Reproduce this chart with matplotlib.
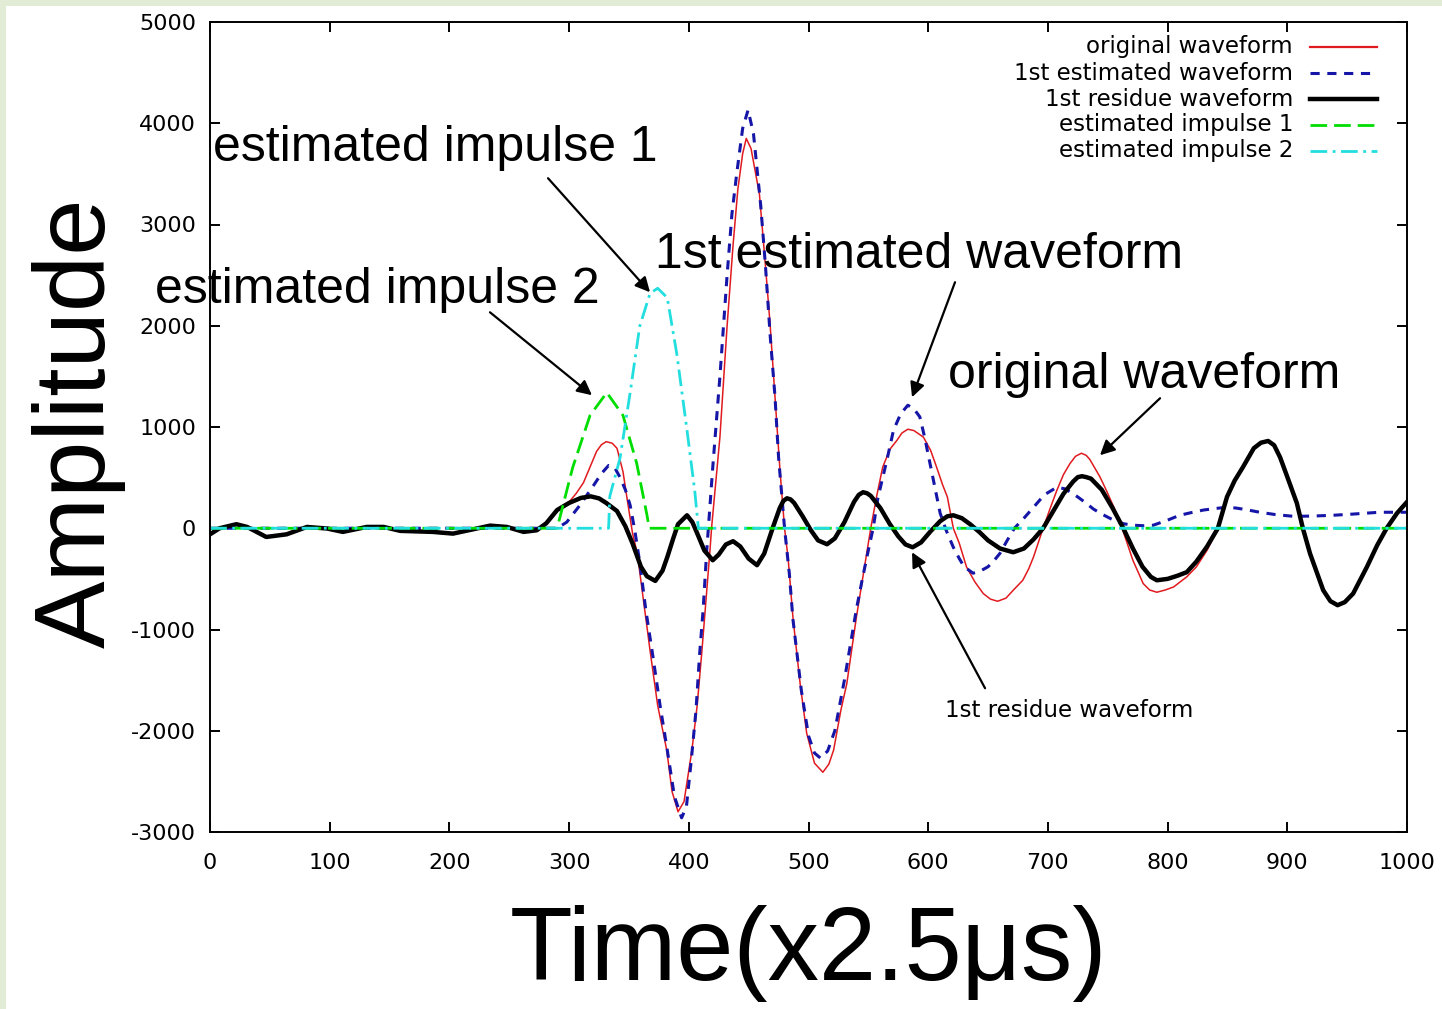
import matplotlib
matplotlib.use("Agg")
import matplotlib.pyplot as plt
from matplotlib.patches import Rectangle

plt.rcParams['axes.unicode_minus'] = False

# original waveform (red)
orig_t = [0, 8, 22, 31, 47, 64, 81, 98, 111, 131, 145, 159, 186, 203, 220, 234, 248, 262, 273, 281,
          290, 300, 306, 312, 317.5, 323, 327, 331, 336, 340, 345, 349, 353, 357, 362, 367.6, 374,
          381.6, 386, 391, 396, 402.6, 407, 411, 417.7, 419, 426, 432, 437, 441, 445, 448, 452, 459,
          464, 468, 472, 476, 480, 483, 487, 493, 498.5, 505, 512, 517, 521, 527, 532, 540, 549, 552,
          557, 562, 568, 574, 578, 583, 588, 596, 602, 607, 612, 616, 621, 626, 632, 639, 646, 652,
          658, 665, 672, 679, 684, 688, 692, 696, 702, 707.5, 713, 718.5, 723, 728, 732, 735, 743.5,
          749, 755, 762, 771, 779.6, 785, 791, 798, 805, 816, 824, 833, 842, 849.6, 856, 863, 872,
          878, 884, 889, 894, 900, 908, 913, 919, 930, 936, 942, 948, 955, 966.5, 975, 983, 991.6,
          1000]
orig_amp = [-60, 0, 40, 13, -86, -60, 13, -3, -36, 13, 13, -26, -36, -53, -10, 26, 13, -36, -20, 50,
            180, 260, 345, 450, 604, 760, 825, 855, 840, 790, 560, 250, -50, -250, -700, -1205, -1750,
            -2193, -2600, -2800, -2700, -2193, -1750, -1205, -217, 0, 900, 2000, 2800, 3350, 3700,
            3850, 3750, 3300, 2600, 2000, 1300, 600, 0, -300, -880, -1535, -2025, -2320, -2410, -2330,
            -2190, -1800, -1535, -880, -217, 0, 320, 604, 780, 870, 940, 978, 965, 900, 770, 604, 430,
            309, 0, -150, -382, -530, -645, -700, -721, -690, -600, -514, -400, -283, -140, 0, 200,
            375, 530, 640, 710, 741, 720, 680, 507, 370, 210, 0, -316, -546, -610, -632, -610, -580,
            -480, -382, -217, 0, 309, 470, 605, 790, 845, 862, 820, 700, 507, 247, 0, -250, -612, -720,
            -760, -730, -645, -382, -170, 0, 148, 260]

# 1st estimated waveform (blue dashed)
est_t = [0, 290, 298, 309, 320, 327, 333, 338, 342.5, 347, 351, 355, 359, 364, 370, 376, 382, 388,
         394, 398, 402, 406, 409, 412, 415, 420, 426, 432, 436, 440, 445, 449.5, 454, 460, 464, 468,
         472, 475, 480, 484, 487, 494, 500, 505, 510, 516, 522, 526, 530, 535, 540, 545, 550, 554,
         558, 562, 566, 571, 577, 583, 588, 593, 597, 601.5, 606, 610, 615, 621, 626, 630, 637.5, 644,
         650, 655, 660, 666, 672, 680, 688, 697, 707.5, 714, 720, 726, 732, 738, 745, 755, 763, 771,
         780, 788, 800, 810, 820, 830, 840, 849, 857, 865, 877, 890, 905, 920, 938, 955, 977, 1000]
est_amp = [0, 0, 60, 227, 415, 540, 620, 600, 504, 380, 227, -30, -336, -800, -1265, -1750, -2190,
           -2650, -2860, -2750, -2300, -1800, -1250, -800, -217, 600, 1500, 2500, 3100, 3500, 3950,
           4130, 3900, 3200, 2600, 1900, 1300, 700, 0, -450, -900, -1600, -2050, -2220, -2270, -2200,
           -2000, -1750, -1500, -1150, -800, -500, -217, 0, 300, 500, 700, 968, 1130, 1215, 1180, 1100,
           900, 640, 380, 148, -20, -188, -300, -380, -444, -420, -380, -320, -247, -120, 0, 100, 207,
           330, 405, 390, 350, 300, 247, 190, 140, 79, 45, 30, 25, 30, 80, 128, 155, 180, 195, 207, 200,
           185, 158, 135, 118, 120, 128, 140, 158, 158]

# 1st residue waveform (black)
resid_t = [0, 8, 22, 31, 47, 64, 81, 98, 111, 131, 145, 159, 186, 203, 220, 234, 248, 262, 273, 281,
           290, 300, 310, 318, 325, 331, 340, 347, 353, 360, 365, 372, 378, 382, 387, 391, 398.5, 403,
           407, 413, 420, 425, 431, 437, 443, 450, 457, 463, 470, 476, 479, 482, 485, 488, 495, 502,
           508, 515.5, 522, 530, 538, 542, 545.6, 549, 552, 560, 568, 575, 581, 587, 594, 602, 610, 616,
           621, 628, 635, 643, 650, 660, 671, 680, 688, 696, 705, 713, 721, 725, 728.5, 732, 736, 745,
           754, 763, 771, 779, 786, 791, 800, 808, 816, 824, 833, 842, 849.6, 856, 863, 872, 878, 884,
           889, 894, 900, 908, 913, 919, 930, 936, 942, 948, 955, 966.5, 975, 983, 991.6, 1000]
resid_amp = [-60, 0, 40, 13, -86, -60, 13, -3, -36, 13, 13, -26, -36, -53, -10, 26, 13, -36, -20, 50,
             180, 250, 300, 315, 295, 250, 170, 20, -150, -380, -474, -520, -420, -286, -100, 40, 128,
             60, -50, -220, -316, -260, -160, -128, -180, -300, -365, -250, 0, 200, 270, 296, 285, 250,
             120, -20, -120, -158, -100, 60, 260, 330, 356, 345, 320, 200, 40, -80, -160, -188, -140,
             -30, 70, 118, 128, 100, 40, -40, -120, -200, -237, -200, -110, 0, 180, 340, 460, 505, 514,
             505, 490, 380, 200, 0, -200, -380, -480, -514, -500, -470, -434, -330, -180, 0, 309, 470,
             605, 790, 845, 862, 820, 700, 507, 247, 0, -250, -612, -720, -760, -730, -645, -382, -170,
             0, 148, 260]

# estimated impulse 1 (green dashed)
imp1_t = [0, 290, 303, 317.5, 331.5, 345, 356.5, 365, 367, 1000]
imp1_amp = [0, 0, 600, 1115, 1340, 1115, 640, 133, 0, 0]

# estimated impulse 2 (cyan dash-dot)
imp2_t = [0, 333, 334, 342.5, 351, 359, 367.6, 374, 382, 390, 398.5, 405, 408, 1000]
imp2_amp = [0, 0, 316, 690, 1340, 1995, 2320, 2370, 2277, 1720, 968, 365, 0, 0]

labels = ["original waveform", "1st estimated waveform", "1st residue waveform",
          "estimated impulse 1", "estimated impulse 2"]
x_ticks = list(range(0, 1001, 100))
y_ticks = list(range(-3000, 5001, 1000))

big = ['Liberation Sans', 'DejaVu Sans']
small = ['DejaVu Sans']

styles = [dict(color='#e01a1f', lw=1.1, linestyle='-'),
          dict(color='#1515a8', lw=2.2, linestyle=(0, (3, 2.5))),
          dict(color='black', lw=3.2, linestyle='-'),
          dict(color='#00dd00', lw=2.0, linestyle=(0, (6, 2.5))),
          dict(color='#22dede', lw=2.0, linestyle=(0, (6, 2, 1, 2)))]
series = [(orig_t, orig_amp), (est_t, est_amp), (resid_t, resid_amp),
          (imp1_t, imp1_amp), (imp2_t, imp2_amp)]

fig = plt.figure(figsize=(14.42, 10.09), dpi=100, facecolor='#e2ebd5')
# white panel, with a thin green margin at top and left
fig.patches.append(Rectangle((6 / 1442, 0), 1, 1 - 6 / 1009, transform=fig.transFigure,
                             facecolor='white', edgecolor='none', zorder=-5))
ax = fig.add_axes([210 / 1442, 177 / 1009, 1197 / 1442, 810 / 1009])
ax.set_facecolor('white')

for (t, amp), st in zip(series, styles):
    ax.plot(t, amp, **st)

ax.set_xlim(0, 1000)
ax.set_ylim(-3000, 5000)
ax.set_xticks(x_ticks)
ax.set_yticks(y_ticks)
ax.tick_params(direction='in', length=7, width=1.4, top=True, right=True, labelsize=16)
ax.tick_params(axis='x', pad=15)
ax.tick_params(axis='y', pad=10)
for lab in ax.get_xticklabels() + ax.get_yticklabels():
    lab.set_family(small)
for sp in ax.spines.values():
    sp.set_linewidth(1.4)

ax.set_xlabel("Time(x2.5μs)", family=big, fontsize=74, labelpad=23)
ax.set_ylabel("Amplitude", family=big, fontsize=73)
ax.yaxis.set_label_coords(-0.0702, 0.505)

arrow = dict(arrowstyle='-|>', color='black', lw=1.6, mutation_scale=22, shrinkA=0, shrinkB=0)
ax.annotate("", xy=(367.6, 2331), xytext=(282.4, 3457), arrowprops=arrow)
ax.text(2.5, 3753, "estimated impulse 1", family=big, fontsize=36, ha='left', va='center')
ax.annotate("", xy=(319.1, 1314), xytext=(233.9, 2133), arrowprops=arrow)
ax.text(-46, 2351, "estimated impulse 2", family=big, fontsize=36, ha='left', va='center',
        clip_on=False)
ax.annotate("", xy=(586.5, 1294), xytext=(622.4, 2430), arrowprops=arrow)
ax.text(371.8, 2696, "1st estimated waveform", family=big, fontsize=36, ha='left', va='center')
ax.annotate("", xy=(743.5, 721), xytext=(793.7, 1284), arrowprops=arrow)
ax.text(616.5, 1511, "original waveform", family=big, fontsize=36, ha='left', va='center')
ax.annotate("", xy=(586.5, -237), xytext=(647.5, -1580), arrowprops=arrow)
ax.text(614, -1798, "1st residue waveform", family=small, fontsize=16.5, ha='left', va='center')

# gnuplot-style key: right-aligned labels followed by line samples
for i, (st, lab) in enumerate(zip(styles, labels)):
    ky = 1 - (25 + 26 * i) / 810
    ax.text(0.9048, ky, lab, transform=ax.transAxes, ha='right', va='center',
            family=small, fontsize=16.5)
    key_st = dict(st, lw=max(st['lw'], 1.6))
    ax.plot([0.919, 0.975], [ky, ky], transform=ax.transAxes, **key_st)

fig.savefig('out.png', dpi=100, facecolor=fig.get_facecolor())
